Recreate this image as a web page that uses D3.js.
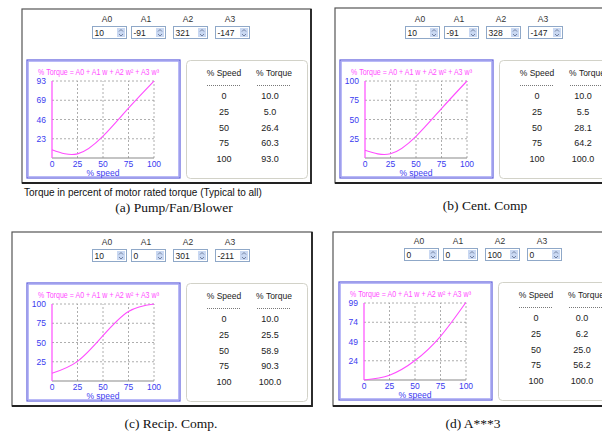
<!DOCTYPE html>
<html lang="en">
<head>
<meta charset="utf-8">
<title>Torque curves</title>
<script src="https://d3js.org/d3.v7.min.js"></script>
<style>
  body { margin: 0; background: #fff; }
  svg { display: block; font-family: "Liberation Sans", Arial, sans-serif; }
</style>
</head>
<body>
<svg id="chart" width="602" height="432"></svg>
<script>
// ---- data ----
const captions = ["(a) Pump/Fan/Blower", "(b) Cent. Comp", "(c) Recip. Comp.", "(d) A***3"]
const coefNames = ["A0", "A1", "A2", "A3"]
const coefA = [10, -91, 321, -147]
const coefB = [10, -91, 328, -147]
const coefC = [10, 0, 301, -211]
const coefD = [0, 0, 100, 0]
const speeds = [0, 25, 50, 75, 100]
const torqueA = [10.0, 5.0, 26.4, 60.3, 93.0]
const torqueB = [10.0, 5.5, 28.1, 64.2, 100.0]
const torqueC = [10.0, 25.5, 58.9, 90.3, 100.0]
const torqueD = [0.0, 6.2, 25.0, 56.2, 100.0]
const yMaxes = [93, 100, 100, 99]
const yTicksA = [23, 46, 69, 93]
const yTicksB = [25, 50, 75, 100]
const yTicksC = [25, 50, 75, 100]
const yTicksD = [24, 49, 74, 99]
const xTicks = [0, 25, 50, 75, 100]
const title = "% Torque = A0 + A1 w + A2 w\u00b2 + A3 w\u00b3"
const note = "Torque in percent of motor rated torque (Typical to all)"

// layout
const frames = [
  {x: 22, y: 9, w: 289, h: 174, ox: 27, oy: 60, cx: 174, cy: 212},
  {x: 335, y: 8, w: 290, h: 175, ox: 340, oy: 60, cx: 485, cy: 210},
  {x: 12, y: 232, w: 300, h: 174, ox: 27, oy: 283, cx: 171, cy: 428},
  {x: 333, y: 232, w: 290, h: 174, ox: 339, oy: 282, cx: 473, cy: 428}
]
const coefs = [coefA, coefB, coefC, coefD]
const torques = [torqueA, torqueB, torqueC, torqueD]
const yTicks = [yTicksA, yTicksB, yTicksC, yTicksD]

const magenta = "#ff4dff"
const blue = "#3b3bf0"
const boxOffsets = [65, 104, 146, 188]

const svg = d3.select("#chart")

frames.forEach(function(f, p) {
  const g = svg.append("g")

  // outer window frame (with a darker shadow on right/bottom)
  g.append("rect")
    .attr("x", f.x).attr("y", f.y).attr("width", f.w).attr("height", f.h)
    .attr("fill", "#fff").attr("stroke", "#555").attr("stroke-width", 1.2)
  g.append("path")
    .attr("d", `M${f.x},${f.y + f.h}H${f.x + f.w}V${f.y}`)
    .attr("fill", "none").attr("stroke", "#222").attr("stroke-width", 1.8)

  // coefficient spin boxes
  coefNames.forEach(function(name, i) {
    const bx = f.ox + boxOffsets[i], by = f.oy - 34
    g.append("text")
      .attr("x", bx + 15).attr("y", by - 4)
      .attr("text-anchor", "middle")
      .attr("font-size", 8.5).attr("fill", "#333")
      .text(name)
    g.append("rect")
      .attr("x", bx + 0.5).attr("y", by + 0.5).attr("width", 34).attr("height", 12)
      .attr("fill", "#fff").attr("stroke", "#8fa8c8")
    g.append("rect")
      .attr("x", bx + 25).attr("y", by + 2).attr("width", 8).attr("height", 9)
      .attr("fill", "#c9d8f2")
    g.append("path")
      .attr("d", `M${bx + 27},${by + 5.5}l2,-2l2,2M${bx + 27},${by + 8}l2,2l2,-2`)
      .attr("fill", "none").attr("stroke", "#5a6a8a").attr("stroke-width", 0.8)
    g.append("text")
      .attr("x", bx + 2.5).attr("y", by + 9.5)
      .attr("font-size", 8.5).attr("fill", "#222")
      .text(coefs[p][i])
  })

  // chart box (double blue border)
  const cw = 153, ch = 118
  g.append("rect")
    .attr("x", f.ox).attr("y", f.oy).attr("width", cw).attr("height", ch)
    .attr("fill", "#fff").attr("stroke", "#5c5cdc").attr("stroke-width", 1.2)
  g.append("rect")
    .attr("x", f.ox + 1.3).attr("y", f.oy + 1.3).attr("width", cw - 2.6).attr("height", ch - 2.6)
    .attr("fill", "none").attr("stroke", "#a9a9f6").attr("stroke-width", 1)

  g.append("text")
    .attr("x", f.ox + 11).attr("y", f.oy + 15)
    .attr("font-size", 8.5).attr("fill", magenta)
    .attr("textLength", 121).attr("lengthAdjust", "spacingAndGlyphs")
    .text(title)

  const x = d3.scaleLinear().domain([0, 100]).range([f.ox + 25, f.ox + 127])
  const y = d3.scaleLinear().domain([0, yMaxes[p]]).range([f.oy + 98, f.oy + 21])

  // dashed grid
  const grid = g.append("g").attr("stroke", "#999").attr("stroke-dasharray", "2,2").attr("stroke-width", 0.8)
  xTicks.slice(1).forEach(function(t) {
    grid.append("line").attr("x1", x(t)).attr("x2", x(t)).attr("y1", y(0)).attr("y2", y(yMaxes[p]))
  })
  yTicks[p].forEach(function(t, i) {
    const v = yMaxes[p] * (i + 1) / 4
    grid.append("line").attr("x1", x(0)).attr("x2", x(100)).attr("y1", y(v)).attr("y2", y(v))
  })

  // bottom axis
  g.append("line")
    .attr("x1", x(0)).attr("x2", x(100)).attr("y1", y(0)).attr("y2", y(0))
    .attr("stroke", "#8a8a8a").attr("stroke-width", 1.2)

  // tick labels
  yTicks[p].forEach(function(t, i) {
    const v = yMaxes[p] * (i + 1) / 4
    g.append("text")
      .attr("x", f.ox + 19).attr("y", y(v) + 3)
      .attr("text-anchor", "end").attr("font-size", 8.5).attr("fill", blue)
      .text(t)
  })
  xTicks.forEach(function(t) {
    g.append("text")
      .attr("x", x(t)).attr("y", y(0) + 9)
      .attr("text-anchor", "middle").attr("font-size", 8.5).attr("fill", blue)
      .text(t)
  })
  g.append("text")
    .attr("x", x(50)).attr("y", y(0) + 18)
    .attr("text-anchor", "middle").attr("font-size", 8.5).attr("fill", blue)
    .text("% speed")

  // pink left axis + curve through table points
  g.append("line")
    .attr("x1", x(0)).attr("x2", x(0)).attr("y1", y(0)).attr("y2", y(yMaxes[p]))
    .attr("stroke", magenta).attr("stroke-width", 1.2)

  const pts = speeds.map((s, i) => [s, torques[p][i]])
  const line = d3.line()
    .x(d => x(d[0]))
    .y(d => y(d[1]))
    .curve(d3.curveNatural)
  g.append("path")
    .attr("d", line(pts))
    .attr("fill", "none").attr("stroke", magenta).attr("stroke-width", 1.1)

  // table box
  const tx = f.ox + 159
  g.append("rect")
    .attr("x", tx + 0.5).attr("y", f.oy + 0.5).attr("width", 121).attr("height", ch)
    .attr("rx", 4)
    .attr("fill", "#fff").attr("stroke", "#d2d2c8")

  const heads = [["% Speed", tx + 38], ["% Torque", tx + 88]]
  heads.forEach(function(h) {
    g.append("text")
      .attr("x", h[1]).attr("y", f.oy + 16)
      .attr("text-anchor", "middle").attr("font-size", 8.5).attr("fill", "#222")
      .text(h[0])
    g.append("line")
      .attr("x1", h[1] - 17).attr("x2", h[1] + 17)
      .attr("y1", f.oy + 25.5).attr("y2", f.oy + 25.5)
      .attr("stroke", "#555").attr("stroke-dasharray", "1,1").attr("stroke-width", 0.8)
  })
  const fmt = d3.format(".1f")
  speeds.forEach(function(s, i) {
    const ry = f.oy + 39 + i * 15.8
    g.append("text")
      .attr("x", tx + 38).attr("y", ry)
      .attr("text-anchor", "middle").attr("font-size", 9).attr("fill", "#222")
      .text(s)
    g.append("text")
      .attr("x", tx + 84).attr("y", ry)
      .attr("text-anchor", "middle").attr("font-size", 9).attr("fill", "#222")
      .text(fmt(torques[p][i]))
  })

  // caption
  svg.append("text")
    .attr("x", f.cx).attr("y", f.cy)
    .attr("text-anchor", "middle")
    .attr("font-family", "'Liberation Serif', 'Times New Roman', serif")
    .attr("font-size", 13.5).attr("fill", "#111")
    .text(captions[p])
})

svg.append("text")
  .attr("x", 24).attr("y", 196)
  .attr("font-size", 10).attr("fill", "#111")
  .text(note)
</script>
</body>
</html>
